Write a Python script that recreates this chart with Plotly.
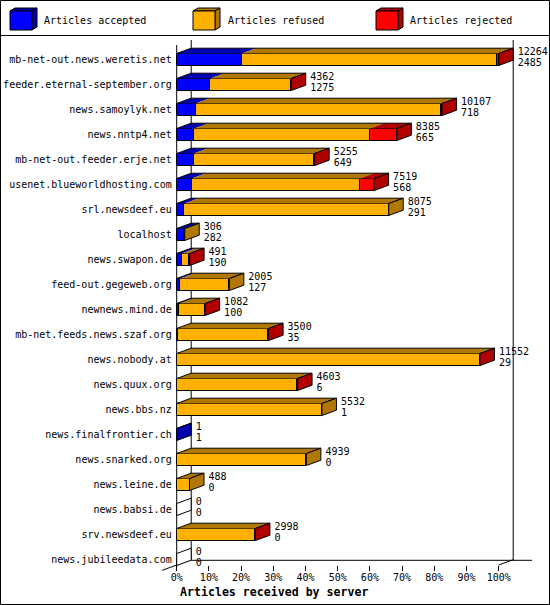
import plotly.graph_objects as go

# ---------------- data ----------------
servers = [
    "mb-net-out.news.weretis.net", "feeder.eternal-september.org", "news.samoylyk.net",
    "news.nntp4.net", "mb-net-out.feeder.erje.net", "usenet.blueworldhosting.com",
    "srl.newsdeef.eu", "localhost", "news.swapon.de", "feed-out.gegeweb.org",
    "newnews.mind.de", "mb-net.feeds.news.szaf.org", "news.nobody.at", "news.quux.org",
    "news.bbs.nz", "news.finalfrontier.ch", "news.snarked.org", "news.leine.de",
    "news.babsi.de", "srv.newsdeef.eu", "news.jubileedata.com",
]
totals = [12264, 4362, 10107, 8385, 5255, 7519, 8075, 306, 491, 2005, 1082,
          3500, 11552, 4603, 5532, 1, 4939, 488, 0, 2998, 0]
accepted = [2485, 1275, 718, 665, 649, 568, 291, 282, 190, 127, 100,
            35, 29, 6, 1, 1, 0, 0, 0, 0, 0]
refused = [9709, 3077, 9364, 6693, 4583, 6408, 7784, 24, 260, 1878, 969,
           3440, 11513, 4577, 5531, 0, 4939, 488, 0, 2979, 0]
rejected = [70, 10, 25, 1027, 23, 543, 0, 0, 41, 0, 13,
            25, 10, 20, 0, 0, 0, 0, 0, 19, 0]
series_names = ["Articles accepted", "Articles refused", "Articles rejected"]
x_ticks = [0, 10, 20, 30, 40, 50, 60, 70, 80, 90, 100]
x_title = "Articles received by server"

# ---------------- style ----------------
FRONT = ["#0000FF", "#FFB000", "#FF0000"]
DARK = ["#0000B0", "#B07800", "#B00000"]
FONT = "DejaVu Sans Mono"
W, H = 550, 605
X0PX, PXPCT = 176.7, 3.22      # pixel of 0 %, pixels per 1 %
Y0PX, PXROW = 59.5, 25.0       # pixel of first row centre, pixels per row
DX = 14.5 / PXPCT              # 3-D depth (x, in % units)
DY = 5.3 / PXROW               # 3-D depth (y, in row units)
HALF = 6.0 / PXROW             # half bar thickness
GAP = 4.5 / PXPCT              # gap between bar end and value labels


def px_x(p):
    return (p - X0PX) / PXPCT


def px_y(p):
    return (p - Y0PX) / PXROW


def pp_x(p):
    return p / W


def pp_y(p):
    return 1 - p / H


scale = 100.0 / max(totals)
idx = list(range(len(servers)))
segs = [accepted, refused, rejected]
pct = [[v * scale for v in s] for s in segs]
tot_pct = [t * scale for t in totals]

fig = go.Figure()
for name, vals, col in zip(series_names, pct, FRONT):
    fig.add_trace(go.Bar(
        orientation="h", y=idx, x=vals, width=2 * HALF, name=name,
        marker=dict(color=col, line=dict(color="black", width=1)),
        showlegend=False, hoverinfo="skip",
    ))

shapes = []
# frame (axis decoration)
line_k = dict(color="black", width=1)
yfront = px_y(565)
for (x0, y0, x1, y1) in [
    (0, px_y(45), 0, px_y(567)),
    (DX, px_y(40), DX, px_y(560.3)),
    (100 + DX, px_y(40), 100 + DX, px_y(560.3)),
    (DX, px_y(560.3), px_x(532), px_y(560.3)),
    (-DX, yfront + DY, DX, yfront - DY),
    (100, yfront, 100 + DX, yfront - DY),
]:
    shapes.append(dict(type="line", xref="x", yref="y", x0=x0, y0=y0, x1=x1, y1=y1,
                       line=line_k, layer="below"))

# 3-D top and side faces
for i in idx:
    yt = i - HALF
    yb = i + HALF
    start = 0.0
    last = None
    for s in range(3):
        w = pct[s][i]
        if w > 0:
            x0, x1 = start, start + w
            shapes.append(dict(
                type="path", xref="x", yref="y",
                path=f"M{x0},{yt} L{x0 + DX},{yt - DY} L{x1 + DX},{yt - DY} L{x1},{yt} Z",
                fillcolor=DARK[s], line=dict(width=0), layer="above"))
            last = s
        start += w
    T = start
    if T > 0:
        shapes.append(dict(
            type="path", xref="x", yref="y",
            path=f"M0,{yt} L{DX},{yt - DY} L{T + DX},{yt - DY} L{T},{yt}",
            line=line_k, layer="above"))
    shapes.append(dict(
        type="path", xref="x", yref="y",
        path=f"M{T},{yt} L{T + DX},{yt - DY} L{T + DX},{yb - DY} L{T},{yb} Z",
        fillcolor=DARK[last] if last is not None else "white",
        line=line_k, layer="above"))

# value labels
lab_x = [p + DX + GAP for p in tot_pct]
fig.add_trace(go.Scatter(
    x=lab_x, y=[i - 0.27 for i in idx], text=[str(t) for t in totals],
    mode="text", textposition="middle right", cliponaxis=False,
    textfont=dict(family=FONT, size=10, color="black"), showlegend=False, hoverinfo="skip"))
fig.add_trace(go.Scatter(
    x=lab_x, y=[i + 0.15 for i in idx], text=[str(a) for a in accepted],
    mode="text", textposition="middle right", cliponaxis=False,
    textfont=dict(family=FONT, size=10, color="black"), showlegend=False, hoverinfo="skip"))

# legend (drawn cubes) + separator + border
annotations = []
leg_x = [10, 193, 376]
txt_x = [42, 225.5, 408]
for name, fc, dc, lx, tx in zip(series_names, FRONT, DARK, leg_x, txt_x):
    fx0, fx1, fy0, fy1, ddx, ddy = lx, lx + 22, 11, 30, 5, 3
    shapes.append(dict(type="path", xref="paper", yref="paper",
                       path=(f"M{pp_x(fx0)},{pp_y(fy0)} L{pp_x(fx0 + ddx)},{pp_y(fy0 - ddy)} "
                             f"L{pp_x(fx1 + ddx)},{pp_y(fy0 - ddy)} L{pp_x(fx1)},{pp_y(fy0)} Z"),
                       fillcolor=dc, line=line_k))
    shapes.append(dict(type="path", xref="paper", yref="paper",
                       path=(f"M{pp_x(fx1)},{pp_y(fy0)} L{pp_x(fx1 + ddx)},{pp_y(fy0 - ddy)} "
                             f"L{pp_x(fx1 + ddx)},{pp_y(fy1 - ddy)} L{pp_x(fx1)},{pp_y(fy1)} Z"),
                       fillcolor=dc, line=line_k))
    shapes.append(dict(type="rect", xref="paper", yref="paper",
                       x0=pp_x(fx0), x1=pp_x(fx1), y0=pp_y(fy0), y1=pp_y(fy1),
                       fillcolor=fc, line=line_k))
    annotations.append(dict(xref="paper", yref="paper", x=pp_x(tx), y=pp_y(20.5),
                            xanchor="left", yanchor="middle", showarrow=False, text=name,
                            font=dict(family=FONT, size=10, color="black")))

shapes.append(dict(type="line", xref="paper", yref="paper", x0=0, x1=1,
                   y0=pp_y(35.5), y1=pp_y(35.5), line=line_k))
shapes.append(dict(type="rect", xref="paper", yref="paper",
                   x0=pp_x(0.5), x1=pp_x(549.5), y0=pp_y(0.5), y1=pp_y(604.5),
                   line=line_k))

annotations.append(dict(xref="paper", yref="paper", x=pp_x(177.5), y=pp_y(591.5),
                        xanchor="left", yanchor="middle", showarrow=False,
                        text=f"<b>{x_title}</b>",
                        font=dict(family=FONT, size=11.6, color="black")))

fig.update_layout(
    width=W, height=H, margin=dict(l=0, r=0, t=0, b=0, pad=0),
    paper_bgcolor="white", plot_bgcolor="white",
    barmode="stack", bargap=0, showlegend=False,
    shapes=shapes, annotations=annotations,
    font=dict(family=FONT, size=10, color="black"),
    xaxis=dict(domain=[0, 1], range=[px_x(0), px_x(W)], anchor="free",
               position=1 - 565 / H, tickmode="array", tickvals=x_ticks,
               ticktext=[f"{t}%" for t in x_ticks], ticks="outside", ticklen=5,
               tickwidth=1, tickcolor="black", showline=False, showgrid=False,
               zeroline=False, automargin=False, fixedrange=True,
               ticklabelstandoff=-2,
               tickfont=dict(family=FONT, size=10, color="black")),
    yaxis=dict(domain=[0, 1], range=[px_y(H), px_y(0)], anchor="free",
               position=X0PX / W, tickmode="array", tickvals=idx, ticktext=servers,
               ticks="", showline=False, showgrid=False, zeroline=False,
               automargin=False, fixedrange=True, ticklabelstandoff=5,
               tickfont=dict(family=FONT, size=10, color="black")),
)

fig.write_html(
    "out.html",
    config={"displayModeBar": False},
    post_script="document.body.style.margin='0';document.body.style.padding='0';"
                "document.body.style.overflow='hidden';",
)
